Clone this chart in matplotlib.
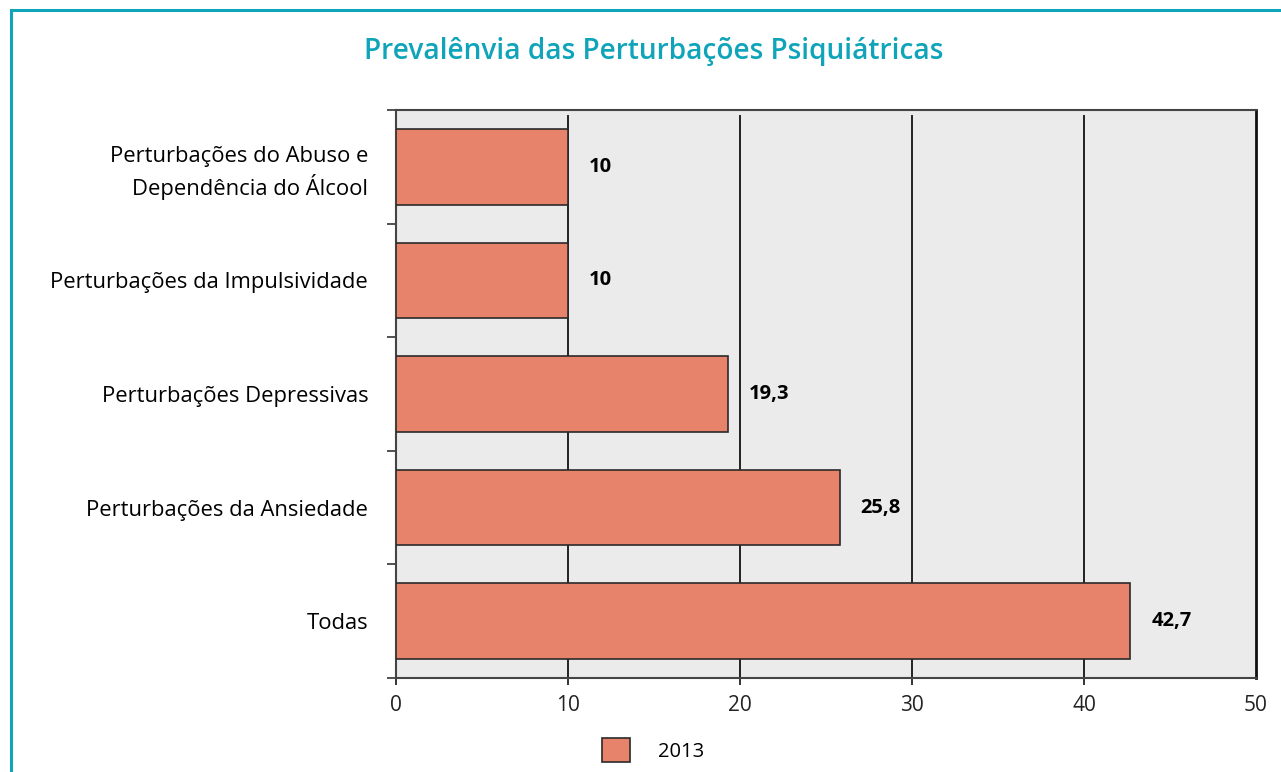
import numpy as np
import matplotlib.pyplot as plt
from matplotlib.patches import Rectangle

# dados
categorias = [
    "Perturbações do Abuso e\nDependência do Álcool",
    "Perturbações da Impulsividade",
    "Perturbações Depressivas",
    "Perturbações da Ansiedade",
    "Todas",
]
valores = [10, 10, 19.3, 25.8, 42.7]
rotulos = ["10", "10", "19,3", "25,8", "42,7"]
xticks = [0, 10, 20, 30, 40, 50]
titulo = "Prevalênvia das Perturbações Psiquiátricas"
serie = "2013"

teal = "#0fa4b9"
cor_barra = "#e8836b"

plt.rcParams["font.family"] = ["Open Sans", "DejaVu Sans"]

fig = plt.figure(figsize=(12.81, 7.72), dpi=100)
ax = fig.add_axes([396 / 1281, 1 - 678 / 772, 860 / 1281, 568 / 772])
ax.set_facecolor("#ebebeb")

y = np.arange(len(categorias))
ax.barh(y, valores, height=0.667, color=cor_barra, edgecolor="#2a2a2a",
        linewidth=1.2, zorder=3, label=serie)

for yi, v, r in zip(y, valores, rotulos):
    ax.annotate(r, (v, yi), xytext=(15, 0), textcoords="offset points",
                va="center", ha="left", fontsize=14.5, fontweight="bold",
                color="#000000")

# grade vertical
for xv in xticks[1:-1]:
    ax.axvline(xv, ymin=0, ymax=0.99, color="#222222", lw=1.4, zorder=1)

ax.set_xlim(0, 50)
ax.set_ylim(len(categorias) - 0.5, -0.5)
ax.set_xticks(xticks)
ax.set_xticklabels([str(t) for t in xticks], fontsize=15, color="#222222")
ax.tick_params(axis="x", length=5, width=1.4, color="#333333", pad=7)
ax.xaxis.get_major_ticks()[-1].tick1line.set_visible(False)

ax.set_yticks(y)
ax.set_yticklabels(categorias, fontsize=15.8, color="#000000",
                   linespacing=1.35)
ax.tick_params(axis="y", which="major", length=0, pad=20)
ax.set_yticks(np.arange(-0.5, len(categorias)), minor=True)
ax.tick_params(axis="y", which="minor", length=6.5, width=1.2, color="#333333")

for s in ["left", "top", "bottom"]:
    ax.spines[s].set_color("#444444")
    ax.spines[s].set_linewidth(1.5)
ax.spines["right"].set_color("#111111")
ax.spines["right"].set_linewidth(2)

fig.text(654 / 1281, 1 - 52 / 772, titulo, ha="center", va="center",
         fontsize=20.2, fontweight="semibold", color=teal)

fig.legend(loc="center", bbox_to_anchor=(653 / 1281, 1 - 750 / 772),
           frameon=False, fontsize=14.5, handlelength=1.4, handleheight=1.45,
           handletextpad=1.35)

# moldura
fig.patches.append(Rectangle((11 / 1281, -0.1), 1.2, 1 - 9.7 / 772 + 0.1,
                             transform=fig.transFigure, fill=False,
                             edgecolor=teal, lw=2.2))

fig.savefig("out.png", dpi=100)
